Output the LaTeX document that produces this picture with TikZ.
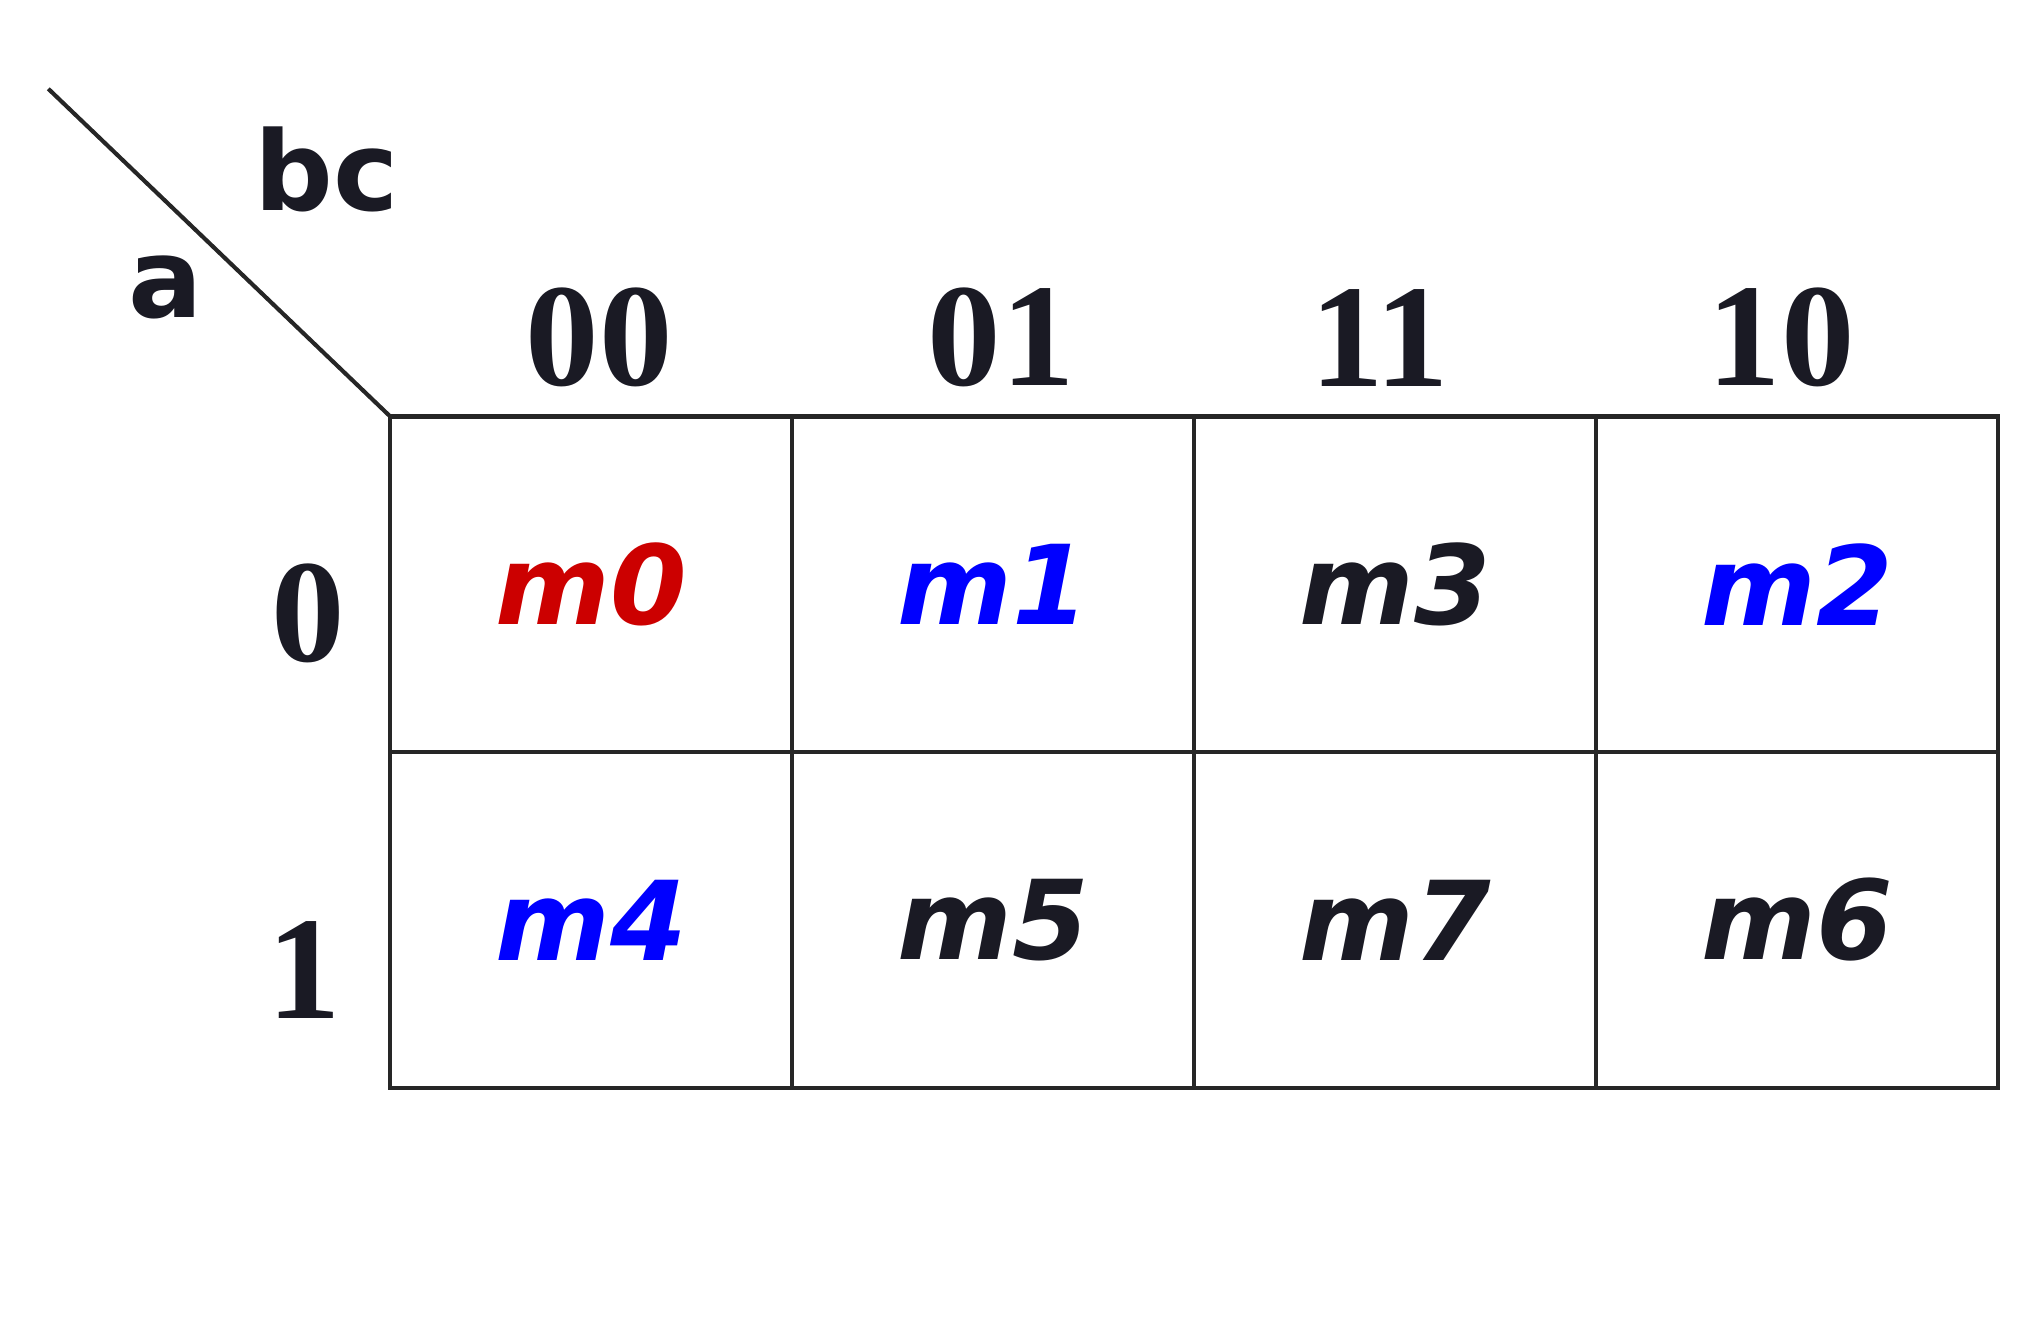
\documentclass[tikz,border=0pt]{standalone}
\usepackage{fontspec}
\setmainfont{Liberation Serif}
\newfontfamily\kmapsans{DejaVu Sans}
\usepackage{tikz}
\usetikzlibrary{positioning}
\definecolor{mred}{RGB}{204,0,0}
\definecolor{mblue}{RGB}{0,0,255}
\definecolor{mdark}{RGB}{26,26,36}

\begin{document}
\begin{tikzpicture}
  \tikzstyle{cell}=[rectangle, draw=black!85, line width=0.9pt, minimum width=3.078cm, minimum height=2.57cm, outer sep=0pt, inner sep=0pt, node distance=0mm, text=mdark, font=\kmapsans\bfseries\itshape\fontsize{24}{24}\selectfont]
  \tikzstyle{code}=[inner sep=0pt, text=mdark, font=\bfseries\fontsize{32}{32}\selectfont]
  \tikzstyle{var}=[inner sep=0pt, text=mdark, font=\kmapsans\bfseries\fontsize{24}{24}\selectfont]
  \useasboundingbox (0,0) rectangle (15.6,-10.1);
    % first row a=0
    \node[cell, text=mred] (m0) at (4.528,-4.475) {m0};
    \node[cell, text=mblue] (m1) [right=of m0] {m1};
    \node[cell] (m3) [right=of m1] {m3};
    \node[cell, text=mblue] (m2) [right=of m3] {m2};
    % second row a=1
    \node[cell, text=mblue] (m4) [below=of m0] {m4};
    \node[cell] (m5) [below=of m1] {m5};
    \node[cell] (m7) [below=of m3] {m7};
    \node[cell] (m6) [below=of m2] {m6};
    % gray code labels
    \node[code] (c00) [above=2.2mm of m0, xshift=0.6mm] {00};
    \node[code] (c01) [above=2.2mm of m1, xshift=0.6mm] {01};
    \node[code] (c11) [above=2.2mm of m3, xshift=-1.2mm] {11};
    \node[code] (c10) [above=2.2mm of m2, xshift=-1.2mm] {10};
    \node[code] (r0) [left=3.4mm of m0, yshift=-2.2mm] {0};
    \node[code] (r1) [left=3.7mm of m4, yshift=-3.8mm] {1};
    % corner
    \coordinate (slash) at (0.37,-0.68);
    \draw[line width=0.9pt, black!85] (slash) -- (m0.north west);
    \node[var] (bc) at (2.50,-1.30) {bc};
    \node[var] (a) at (1.27,-2.20) {a};
\end{tikzpicture}
\end{document}
